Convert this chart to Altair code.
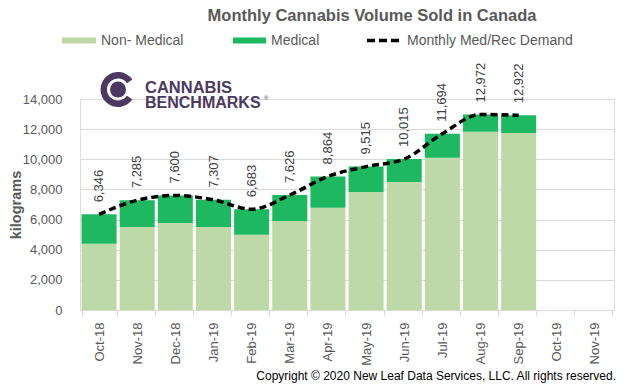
import altair as alt
import pandas as pd

# ---- data ----
months = ["Oct-18", "Nov-18", "Dec-18", "Jan-19", "Feb-19", "Mar-19", "Apr-19",
          "May-19", "Jun-19", "Jul-19", "Aug-19", "Sep-19", "Oct-19", "Nov-19"]
non_medical = [4400, 5500, 5780, 5500, 5000, 5900, 6780, 7830, 8500, 10100, 11830, 11740]
medical = [1946, 1785, 1820, 1807, 1683, 1726, 2084, 1685, 1515, 1594, 1142, 1182]
totals = [6346, 7285, 7600, 7307, 6683, 7626, 8864, 9515, 10015, 11694, 12972, 12922]
demand = [6346, 7285, 7600, 7307, 6683, 7626, 8864, 9515, 10015, 11694, 12972, 12922]
series_names = ["Non- Medical", "Medical"]
series_colors = ["#bdd9a7", "#1db860"]
y_ticks = [0, 2000, 4000, 6000, 8000, 10000, 12000, 14000]

FONT = "Liberation Sans"
GREY = "#595959"
PURPLE = "#4b3960"

rows = []
for m, v in zip(months, non_medical):
    rows.append({"month": m, "type": series_names[0], "value": v, "ord": 0})
for m, v in zip(months, medical):
    rows.append({"month": m, "type": series_names[1], "value": v, "ord": 1})
bars_df = pd.DataFrame(rows)
tot_df = pd.DataFrame({"month": months[:len(totals)], "value": totals})
line_df = pd.DataFrame({"month": months[:len(demand)], "value": demand})

x_enc = alt.X(
    "month:N",
    sort=months,
    scale=alt.Scale(domain=months, paddingInner=0.082, paddingOuter=0.041),
    axis=alt.Axis(title=None, labelAngle=-90, labelFontSize=13, labelColor=GREY,
                  labelFont=FONT, tickBand="extent", tickSize=5, tickColor="#d9d9d9",
                  domainColor="#d9d9d9", labelPadding=7, grid=False),
)
y_scale = alt.Scale(domain=[0, 14000], nice=False, zero=True)
y_axis = alt.Axis(values=y_ticks, format=",.0f", title=None, labelFontSize=13,
                  labelColor=GREY, labelFont=FONT, ticks=False, tickSize=0,
                  domain=False, gridColor="#d9d9d9", labelPadding=18)

bars = alt.Chart(bars_df).mark_bar().encode(
    x=x_enc,
    y=alt.Y("value:Q", stack="zero", scale=y_scale, axis=y_axis),
    color=alt.Color("type:N", scale=alt.Scale(domain=series_names, range=series_colors), legend=None),
    order=alt.Order("ord:Q"),
)

line = alt.Chart(line_df).mark_line(
    color="black", strokeDash=[7, 4], strokeWidth=3.5, interpolate="monotone"
).encode(x=x_enc, y=alt.Y("value:Q", scale=y_scale, axis=y_axis))

labels = alt.Chart(tot_df).mark_text(
    angle=270, align="left", baseline="middle", dx=12, fontSize=13, color="#404040", font=FONT
).encode(x=x_enc, y=alt.Y("value:Q", scale=y_scale, axis=y_axis),
         text=alt.Text("value:Q", format=","))


def txt(s, x, y, **kw):
    return alt.Chart(pd.DataFrame({"t": [s]})).mark_text(font=FONT, **kw).encode(
        x=alt.value(x), y=alt.value(y), text="t:N")


def rect(x, x2, y, y2, color):
    return alt.Chart(pd.DataFrame({"a": [0]})).mark_rect(color=color).encode(
        x=alt.value(x), x2=alt.value(x2), y=alt.value(y), y2=alt.value(y2))


title = txt("Monthly Cannabis Volume Sold in Canada", 292, -78.5, fontSize=16.5,
            fontWeight="bold", color=GREY, align="center", baseline="alphabetic")

leg1 = rect(-18, 16, -61.5, -55.5, series_colors[0])
leg1t = txt(series_names[0], 21, -58.5, fontSize=14, color=GREY, align="left", baseline="middle")
leg2 = rect(153, 186, -61.5, -55.5, series_colors[1])
leg2t = txt(series_names[1], 191, -58.5, fontSize=14, color=GREY, align="left", baseline="middle")
leg3 = alt.Chart(pd.DataFrame({"a": [0]})).mark_rule(
    color="black", strokeDash=[8, 4], strokeWidth=3.5
).encode(x=alt.value(287), x2=alt.value(320), y=alt.value(-58.5))
leg3t = txt("Monthly Med/Rec Demand", 327, -58.5, fontSize=14, color=GREY, align="left", baseline="middle")

ytitle = txt("kilograms", -63, 106, fontSize=14.5, fontWeight="bold", color=GREY,
             angle=270, align="center", baseline="middle")

ring = alt.Chart(pd.DataFrame({"a": [0]})).mark_arc(
    theta=2.18, theta2=7.24, outerRadius=17.5, innerRadius=11, color=PURPLE
).encode(x=alt.value(38), y=alt.value(-9.5))
dot = alt.Chart(pd.DataFrame({"a": [0]})).mark_arc(
    theta=0, theta2=6.2832, outerRadius=8, innerRadius=0, color=PURPLE
).encode(x=alt.value(38), y=alt.value(-9.5))
logo1 = txt("CANNABIS", 65, -6, fontSize=16.5, fontWeight="bold", color=PURPLE,
            align="left", baseline="alphabetic")
logo2 = txt("BENCHMARKS", 65, 9, fontSize=16, fontWeight="bold", color=PURPLE,
            align="left", baseline="alphabetic")
logo3 = txt("®", 184, -1, fontSize=6, color=PURPLE, align="left", baseline="middle")

copyright_ = txt("Copyright © 2020 New Leaf Data Services, LLC. All rights reserved.",
                 536, 281, fontSize=12, color="#000000", align="right", baseline="alphabetic")

chart = alt.layer(
    bars, line, labels, title, leg1, leg1t, leg2, leg2t, leg3, leg3t, ytitle,
    ring, dot, logo1, logo2, logo3, copyright_
).properties(
    width=534, height=211,
    autosize=alt.AutoSizeParams(type="none"),
    padding={"left": 72, "top": 91, "right": 7, "bottom": 73},
).configure_view(stroke=None).configure(font=FONT)

chart.save("out.html", embed_options={"renderer": "svg", "actions": False})
